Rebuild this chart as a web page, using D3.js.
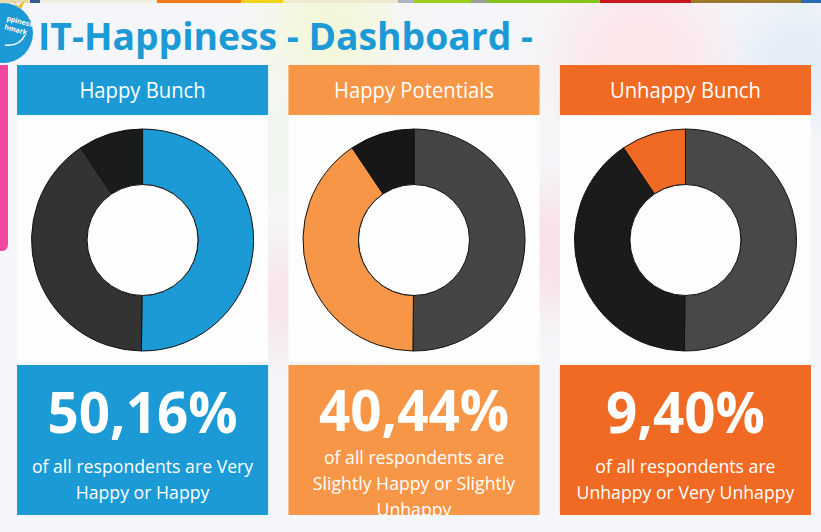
<!DOCTYPE html>
<meta charset="utf-8">
<script src="https://d3js.org/d3.v7.min.js"></script>
<style>
body { margin: 0; background: #f5f6f9; overflow: hidden; }
svg text { font-family: "Open Sans", "DejaVu Sans", sans-serif; }
.title { fill: #1b9ad6; font-weight: 700; font-size: 38px; }
.head { fill: #fff; font-size: 22px; }
.big { fill: #fff; font-weight: 700; font-size: 57px; }
.sub { fill: #fff; font-size: 19px; }
.slice { stroke: #111; stroke-width: 1px; }
</style>
<body></body>
<script>

// data
var title = "IT-Happiness - Dashboard -";
var groups = ["Happy Bunch", "Happy Potentials", "Unhappy Bunch"];
var shares = [50.16, 40.44, 9.40];
var descriptions = [
  ["of all respondents are Very", "Happy or Happy"],
  ["of all respondents are", "Slightly Happy or Slightly", "Unhappy"],
  ["of all respondents are", "Unhappy or Very Unhappy"]
];

// colours
var panelColors = ["#1b9ad6", "#f79646", "#f16a24"];
var sliceColors = [
  ["#1b9ad6", "#333333", "#1b1b1b"],
  ["#454545", "#f79646", "#171717"],
  ["#484848", "#1b1b1b", "#f16a24"]
];

var width = 821, height = 532;

var svg = d3.select("body").append("svg")
    .attr("width", width)
    .attr("height", height);

var defs = svg.append("defs");
defs.append("filter").attr("id", "blur")
    .attr("x", "-50%").attr("y", "-50%").attr("width", "200%").attr("height", "200%")
  .append("feGaussianBlur").attr("stdDeviation", 25);

// soft balloon background
var blobs = [
  {x: 330, y: 30, r: 60, c: "#f3f7d8"},
  {x: 640, y: 60, r: 80, c: "#fbe6ea"},
  {x: 800, y: 60, r: 60, c: "#e3edf8"},
  {x: 560, y: 250, r: 60, c: "#f8e0e6"},
  {x: 285, y: 300, r: 50, c: "#f8e2ea"},
  {x: 290, y: 150, r: 40, c: "#eef6e6"}
];
svg.append("rect").attr("width", width).attr("height", height).attr("fill", "#f5f6f9");
svg.append("g").attr("filter", "url(#blur)")
  .selectAll("circle").data(blobs).enter().append("circle")
    .attr("cx", function(d) { return d.x; })
    .attr("cy", function(d) { return d.y; })
    .attr("r", function(d) { return d.r; })
    .attr("fill", function(d) { return d.c; });

// colourful strip at the very top
var strip = [
  [0, 30, "#e9dcb0"], [30, 40, "#3b5a8c"], [40, 157, "#f1efe0"], [157, 241, "#ee7a1c"],
  [241, 283, "#f2d21a"], [283, 398, "#efe8cf"], [398, 414, "#a9b6c2"], [414, 471, "#9ccd1c"],
  [471, 487, "#9aa096"], [487, 600, "#86c21c"], [600, 691, "#c8161c"], [691, 801, "#9a7a2a"],
  [801, 821, "#2a6ab0"]
];
svg.append("g").selectAll("rect").data(strip).enter().append("rect")
    .attr("x", function(d) { return d[0]; })
    .attr("width", function(d) { return d[1] - d[0]; })
    .attr("y", 0).attr("height", 3)
    .attr("fill", function(d) { return d[2]; });

// logo
var logo = svg.append("g").attr("transform", "translate(3,33)");
logo.append("path").attr("d", "M8,-34 L14,-26 L22,-33 L18,-24 Z").attr("fill", "#f5b81c");
logo.append("circle").attr("r", 30).attr("fill", "#1b9ad6");
logo.append("text").attr("x", 0).attr("y", -13).attr("transform", "rotate(14)")
    .attr("fill", "#fff").attr("font-size", 7).attr("font-weight", 700).text("ppiness");
logo.append("text").attr("x", 0).attr("y", -4).attr("transform", "rotate(14)")
    .attr("fill", "#fff").attr("font-size", 7).attr("font-weight", 700).text("hmark");
logo.append("path").attr("d", "M2,12 Q16,14 22,2").attr("fill", "none")
    .attr("stroke", "#fff").attr("stroke-width", 1.6);

// pink side tab
svg.append("path").attr("d", "M0,65 H8 V244 Q8,251 2,251 H0 Z").attr("fill", "#f0489e");

// title
var titleText = svg.append("text").attr("class", "title")
    .attr("x", 38).attr("y", 50).text(title);
titleText.attr("textLength", 495).attr("lengthAdjust", "spacingAndGlyphs");

// panels
var x = d3.scaleBand().domain(groups).range([17, 811]).paddingInner(0.075);
var bw = x.bandwidth();

var fmt = d3.formatLocale({decimal: ",", thousands: ".", grouping: [3], currency: ["", "€"]}).format(".2f");

var pie = d3.pie().sort(null).value(function(d) { return d; });
var arc = d3.arc().innerRadius(55.5).outerRadius(111);

function squeeze(sel, f) {
  sel.each(function() {
    var len = this.getComputedTextLength();
    d3.select(this).attr("textLength", len * f).attr("lengthAdjust", "spacingAndGlyphs");
  });
}

groups.forEach(function(g, i) {
  var p = svg.append("g").attr("transform", "translate(" + x(g) + ",0)");

  defs.append("clipPath").attr("id", "clip" + i)
    .append("rect").attr("x", 0).attr("y", 365).attr("width", bw).attr("height", 150);

  // header
  p.append("rect").attr("y", 65).attr("width", bw).attr("height", 50).attr("fill", panelColors[i]);
  var h = p.append("text").attr("class", "head")
      .attr("x", bw / 2).attr("y", 98).attr("text-anchor", "middle").text(g);
  squeeze(h, 0.92);

  // chart area
  p.append("rect").attr("y", 116).attr("width", bw).attr("height", 246).attr("fill", "#fdfdfd");

  var donut = p.append("g").attr("transform", "translate(" + (bw / 2) + ",240)");
  donut.selectAll("path").data(pie(shares)).enter().append("path")
      .attr("class", "slice")
      .attr("d", arc)
      .attr("fill", function(d, j) { return sliceColors[i][j]; });
  donut.append("circle").attr("r", 55.5).attr("fill", "#fdfdfd").attr("stroke", "#111").attr("stroke-width", 1);

  // value box
  p.append("rect").attr("y", 365).attr("width", bw).attr("height", 150).attr("fill", panelColors[i]);
  var box = p.append("g").attr("clip-path", "url(#clip" + i + ")");
  var n = descriptions[i].length;
  var shift = (n - 2) * 9;
  var big = box.append("text").attr("class", "big")
      .attr("x", bw / 2).attr("y", 433 - (n - 2) * 2).attr("text-anchor", "middle")
      .text(fmt(shares[i]) + "%");
  squeeze(big, 0.96);
  var sub = box.selectAll(".sub").data(descriptions[i]).enter().append("text")
      .attr("class", "sub")
      .attr("x", bw / 2)
      .attr("y", function(d, j) { return 473 - shift + j * 26; })
      .attr("text-anchor", "middle")
      .text(function(d) { return d; });
  squeeze(sub, 0.93);
});

</script>
